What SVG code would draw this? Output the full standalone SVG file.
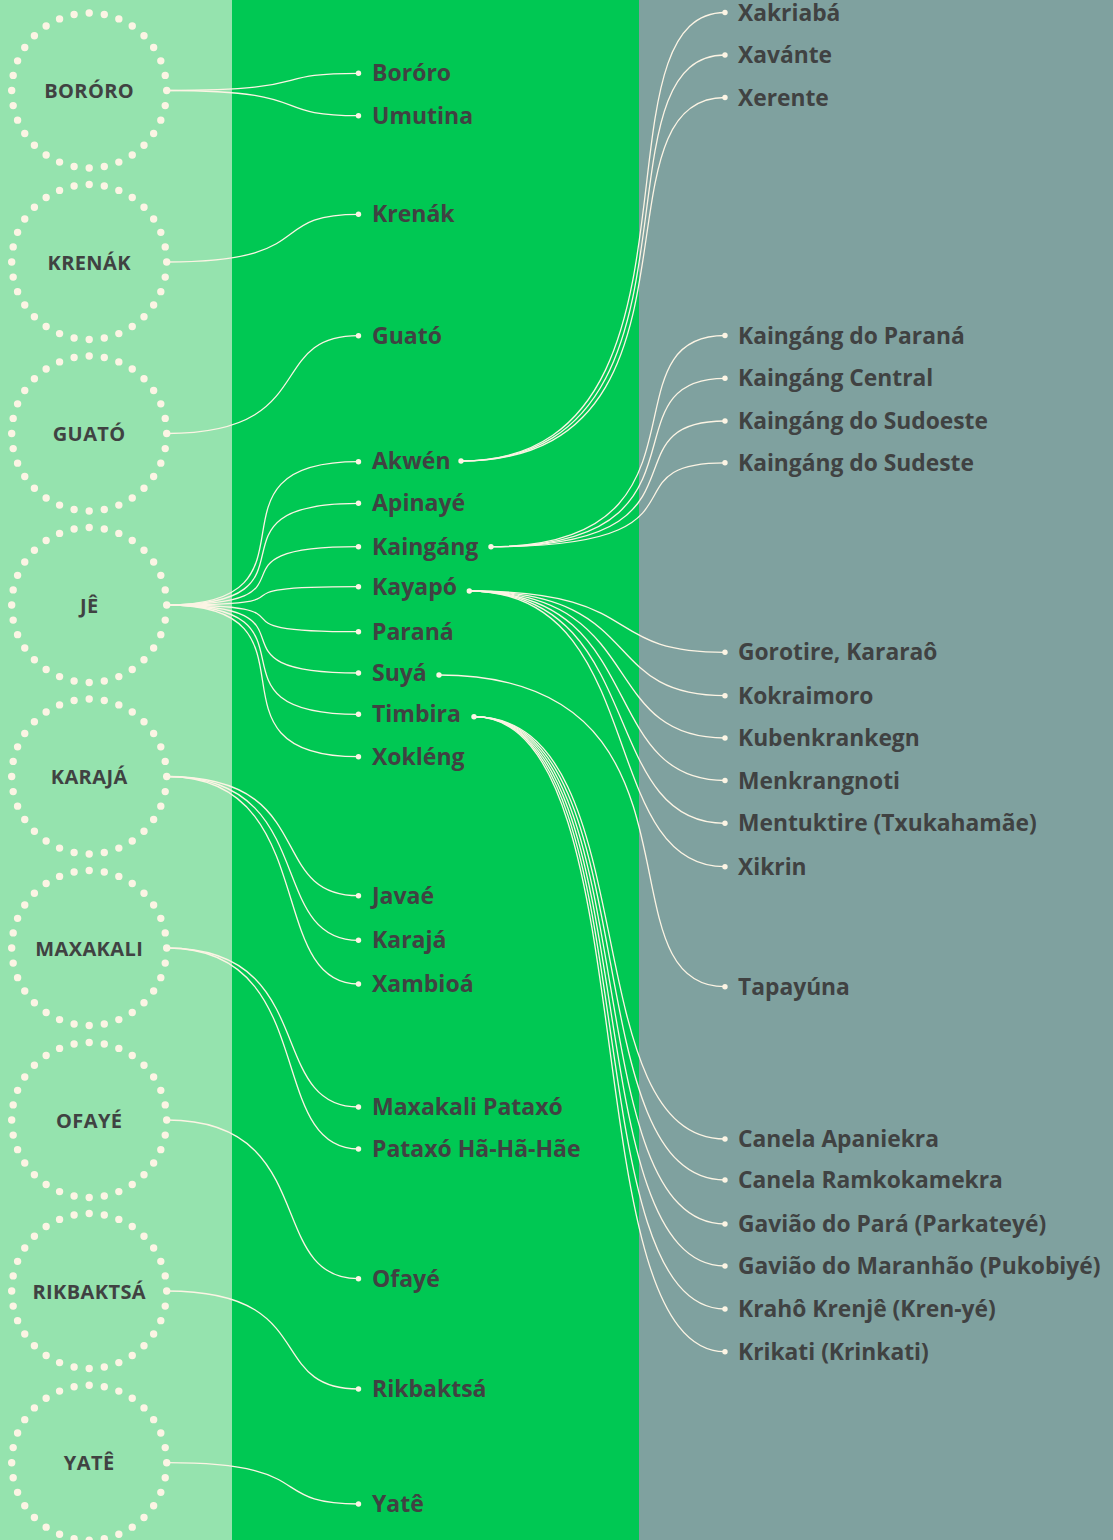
<svg xmlns="http://www.w3.org/2000/svg" width="1113" height="1540" viewBox="0 0 1113 1540">
<style>
.ring{fill:none;stroke:#fcf4e4;stroke-width:7.4;stroke-linecap:round;stroke-dasharray:0 1}
.lnk{fill:none;stroke:#fcf4e4;stroke-width:1.3}
.dot{fill:#fcf4e4}
.cl{font-family:"Open Sans","Liberation Sans",sans-serif;font-weight:700;font-size:20px;letter-spacing:0.4px;fill:#404242;text-anchor:middle}
.ml{font-family:"Open Sans","Liberation Sans",sans-serif;font-weight:700;font-size:23px;fill:#404242}
.rl{font-family:"Open Sans","Liberation Sans",sans-serif;font-weight:700;font-size:22.8px;fill:#404242}
</style>
<rect x="0" y="0" width="232" height="1540" fill="#95e3ae"/>
<rect x="232" y="0" width="407" height="1540" fill="#00c853"/>
<rect x="639" y="0" width="474" height="1540" fill="#7fa19f"/>

<g id="connectors">
<path class="lnk" d="M167,90.5 C321,90.5 264,73.3 358.5,73.3"/>
<path class="lnk" d="M167,90.5 C321,90.5 264,115.7 358.5,115.7"/>
<path class="lnk" d="M167,262 C321,262 264,214.3 358.5,214.3"/>
<path class="lnk" d="M167,433.5 C321,433.5 264,335.7 358.5,335.7"/>
<path class="lnk" d="M167,605 C335,605 190,461.7 358.5,461.7"/>
<path class="lnk" d="M167,605 C335,605 190,503.3 358.5,503.3"/>
<path class="lnk" d="M167,605 C335,605 190,546.7 358.5,546.7"/>
<path class="lnk" d="M167,605 C335,605 190,586.7 358.5,586.7"/>
<path class="lnk" d="M167,605 C335,605 190,631.7 358.5,631.7"/>
<path class="lnk" d="M167,605 C335,605 190,673 358.5,673"/>
<path class="lnk" d="M167,605 C335,605 190,714.3 358.5,714.3"/>
<path class="lnk" d="M167,605 C335,605 190,756.7 358.5,756.7"/>
<path class="lnk" d="M167,776.5 C321,776.5 264,895.7 358.5,895.7"/>
<path class="lnk" d="M167,776.5 C321,776.5 264,940.3 358.5,940.3"/>
<path class="lnk" d="M167,776.5 C321,776.5 264,984 358.5,984"/>
<path class="lnk" d="M167,948 C321,948 264,1107 358.5,1107"/>
<path class="lnk" d="M167,948 C321,948 264,1149 358.5,1149"/>
<path class="lnk" d="M167,1120 C321,1120 264,1278.7 358.5,1278.7"/>
<path class="lnk" d="M167,1291 C321,1291 264,1389 358.5,1389"/>
<path class="lnk" d="M167,1462.7 C321,1462.7 264,1504 358.5,1504"/>

<path class="lnk" d="M461,461 C725,461 586,12.5 725,12.5"/>
<path class="lnk" d="M461,461 C725,461 586,55 725,55"/>
<path class="lnk" d="M461,461 C725,461 586,97.5 725,97.5"/>
<path class="lnk" d="M491,546.7 C725,546.7 600,335.5 725,335.5"/>
<path class="lnk" d="M491,546.7 C725,546.7 600,378.3 725,378.3"/>
<path class="lnk" d="M491,546.7 C725,546.7 600,421 725,421"/>
<path class="lnk" d="M491,546.7 C725,546.7 600,462.8 725,462.8"/>
<path class="lnk" d="M469.3,591 C650,591 595,652.3 725,652.3"/>
<path class="lnk" d="M469.3,591 C650,591 595,695.7 725,695.7"/>
<path class="lnk" d="M469.3,591 C650,591 595,738 725,738"/>
<path class="lnk" d="M469.3,591 C650,591 595,780.5 725,780.5"/>
<path class="lnk" d="M469.3,591 C650,591 595,823.3 725,823.3"/>
<path class="lnk" d="M469.3,591 C650,591 595,866.7 725,866.7"/>
<path class="lnk" d="M439,675 C725,675 594,986.7 725,986.7"/>
<path class="lnk" d="M474,716.7 C650,716.7 571,1139 725,1139"/>
<path class="lnk" d="M474,716.7 C650,716.7 571,1180 725,1180"/>
<path class="lnk" d="M474,716.7 C650,716.7 571,1224 725,1224"/>
<path class="lnk" d="M474,716.7 C650,716.7 571,1266 725,1266"/>
<path class="lnk" d="M474,716.7 C650,716.7 571,1309 725,1309"/>
<path class="lnk" d="M474,716.7 C650,716.7 571,1351.7 725,1351.7"/>
</g>

<g id="c-bororo"><circle class="ring" cx="89.2" cy="90.5" r="77.5" pathLength="32"/><text class="cl" x="89.2" y="98">BORÓRO</text></g>
<g id="c-krenak"><circle class="ring" cx="89.2" cy="262" r="77.5" pathLength="32"/><text class="cl" x="89.2" y="269.5">KRENÁK</text></g>
<g id="c-guato"><circle class="ring" cx="89.2" cy="433.5" r="77.5" pathLength="32"/><text class="cl" x="89.2" y="441">GUATÓ</text></g>
<g id="c-je"><circle class="ring" cx="89.2" cy="605" r="77.5" pathLength="32"/><text class="cl" x="89.2" y="612.5">JÊ</text></g>
<g id="c-karaja"><circle class="ring" cx="89.2" cy="776.5" r="77.5" pathLength="32"/><text class="cl" x="89.2" y="784">KARAJÁ</text></g>
<g id="c-maxakali"><circle class="ring" cx="89.2" cy="948" r="77.5" pathLength="32"/><text class="cl" x="89.2" y="955.5">MAXAKALI</text></g>
<g id="c-ofaye"><circle class="ring" cx="89.2" cy="1120" r="77.5" pathLength="32"/><text class="cl" x="89.2" y="1127.5">OFAYÉ</text></g>
<g id="c-rikbaktsa"><circle class="ring" cx="89.2" cy="1291" r="77.5" pathLength="32"/><text class="cl" x="89.2" y="1298.5">RIKBAKTSÁ</text></g>
<g id="c-yate"><circle class="ring" cx="89.2" cy="1462.7" r="77.5" pathLength="32"/><text class="cl" x="89.2" y="1470.2">YATÊ</text></g>

<g id="m-bororo"><circle class="dot" cx="358.5" cy="73.3" r="2.7"/><text class="ml" x="372" y="81.3">Boróro</text></g>
<g id="m-umutina"><circle class="dot" cx="358.5" cy="115.7" r="2.7"/><text class="ml" x="372" y="123.7">Umutina</text></g>
<g id="m-krenak"><circle class="dot" cx="358.5" cy="214.3" r="2.7"/><text class="ml" x="372" y="222.3">Krenák</text></g>
<g id="m-guato"><circle class="dot" cx="358.5" cy="335.7" r="2.7"/><text class="ml" x="372" y="343.7">Guató</text></g>
<g id="m-akwen"><circle class="dot" cx="358.5" cy="461.7" r="2.7"/><circle class="dot" cx="461" cy="461" r="2.7"/><text class="ml" x="372" y="469.2">Akwén</text></g>
<g id="m-apinaye"><circle class="dot" cx="358.5" cy="503.3" r="2.7"/><text class="ml" x="372" y="511.3">Apinayé</text></g>
<g id="m-kaingang"><circle class="dot" cx="358.5" cy="546.7" r="2.7"/><circle class="dot" cx="491" cy="546.7" r="2.7"/><text class="ml" x="372" y="554.7">Kaingáng</text></g>
<g id="m-kayapo"><circle class="dot" cx="358.5" cy="586.7" r="2.7"/><circle class="dot" cx="469.3" cy="591" r="2.7"/><text class="ml" x="372" y="594.7">Kayapó</text></g>
<g id="m-parana"><circle class="dot" cx="358.5" cy="631.7" r="2.7"/><text class="ml" x="372" y="639.7">Paraná</text></g>
<g id="m-suya"><circle class="dot" cx="358.5" cy="673" r="2.7"/><circle class="dot" cx="439" cy="675" r="2.7"/><text class="ml" x="372" y="681">Suyá</text></g>
<g id="m-timbira"><circle class="dot" cx="358.5" cy="714.3" r="2.7"/><circle class="dot" cx="474" cy="716.7" r="2.7"/><text class="ml" x="372" y="722.3">Timbira</text></g>
<g id="m-xokleng"><circle class="dot" cx="358.5" cy="756.7" r="2.7"/><text class="ml" x="372" y="764.7">Xokléng</text></g>
<g id="m-javae"><circle class="dot" cx="358.5" cy="895.7" r="2.7"/><text class="ml" x="372" y="903.7">Javaé</text></g>
<g id="m-karaja"><circle class="dot" cx="358.5" cy="940.3" r="2.7"/><text class="ml" x="372" y="948.3">Karajá</text></g>
<g id="m-xambioa"><circle class="dot" cx="358.5" cy="984" r="2.7"/><text class="ml" x="372" y="992">Xambioá</text></g>
<g id="m-maxakali"><circle class="dot" cx="358.5" cy="1107" r="2.7"/><text class="ml" x="372" y="1115">Maxakali Pataxó</text></g>
<g id="m-pataxo"><circle class="dot" cx="358.5" cy="1149" r="2.7"/><text class="ml" x="372" y="1157">Pataxó Hã-Hã-Hãe</text></g>
<g id="m-ofaye"><circle class="dot" cx="358.5" cy="1278.7" r="2.7"/><text class="ml" x="372" y="1286.7">Ofayé</text></g>
<g id="m-rikbaktsa"><circle class="dot" cx="358.5" cy="1389" r="2.7"/><text class="ml" x="372" y="1397">Rikbaktsá</text></g>
<g id="m-yate"><circle class="dot" cx="358.5" cy="1504" r="2.7"/><text class="ml" x="372" y="1512">Yatê</text></g>

<g id="r-xakriaba"><circle class="dot" cx="725" cy="12.5" r="2.7"/><text class="rl" x="738" y="21">Xakriabá</text></g>
<g id="r-xavante"><circle class="dot" cx="725" cy="55" r="2.7"/><text class="rl" x="738" y="63">Xavánte</text></g>
<g id="r-xerente"><circle class="dot" cx="725" cy="97.5" r="2.7"/><text class="rl" x="738" y="105.5">Xerente</text></g>
<g id="r-kparana"><circle class="dot" cx="725" cy="335.5" r="2.7"/><text class="rl" x="738" y="343.5">Kaingáng do Paraná</text></g>
<g id="r-kcentral"><circle class="dot" cx="725" cy="378.3" r="2.7"/><text class="rl" x="738" y="386.3">Kaingáng Central</text></g>
<g id="r-ksudoeste"><circle class="dot" cx="725" cy="421" r="2.7"/><text class="rl" x="738" y="429">Kaingáng do Sudoeste</text></g>
<g id="r-ksudeste"><circle class="dot" cx="725" cy="462.8" r="2.7"/><text class="rl" x="738" y="470.8">Kaingáng do Sudeste</text></g>
<g id="r-gorotire"><circle class="dot" cx="725" cy="652.3" r="2.7"/><text class="rl" x="738" y="660.3">Gorotire, Kararaô</text></g>
<g id="r-kokraimoro"><circle class="dot" cx="725" cy="695.7" r="2.7"/><text class="rl" x="738" y="703.7">Kokraimoro</text></g>
<g id="r-kubenkrankegn"><circle class="dot" cx="725" cy="738" r="2.7"/><text class="rl" x="738" y="746">Kubenkrankegn</text></g>
<g id="r-menkrangnoti"><circle class="dot" cx="725" cy="780.5" r="2.7"/><text class="rl" x="738" y="788.5">Menkrangnoti</text></g>
<g id="r-mentuktire"><circle class="dot" cx="725" cy="823.3" r="2.7"/><text class="rl" x="738" y="831.3">Mentuktire (Txukahamãe)</text></g>
<g id="r-xikrin"><circle class="dot" cx="725" cy="866.7" r="2.7"/><text class="rl" x="738" y="874.7">Xikrin</text></g>
<g id="r-tapayuna"><circle class="dot" cx="725" cy="986.7" r="2.7"/><text class="rl" x="738" y="994.7">Tapayúna</text></g>
<g id="r-canela-ap"><circle class="dot" cx="725" cy="1139" r="2.7"/><text class="rl" x="738" y="1147">Canela Apaniekra</text></g>
<g id="r-canela-ram"><circle class="dot" cx="725" cy="1180" r="2.7"/><text class="rl" x="738" y="1188">Canela Ramkokamekra</text></g>
<g id="r-gaviao-para"><circle class="dot" cx="725" cy="1224" r="2.7"/><text class="rl" x="738" y="1232">Gavião do Pará (Parkateyé)</text></g>
<g id="r-gaviao-ma"><circle class="dot" cx="725" cy="1266" r="2.7"/><text class="rl" x="738" y="1274">Gavião do Maranhão (Pukobiyé)</text></g>
<g id="r-kraho"><circle class="dot" cx="725" cy="1309" r="2.7"/><text class="rl" x="738" y="1317">Krahô Krenjê (Kren-yé)</text></g>
<g id="r-krikati"><circle class="dot" cx="725" cy="1351.7" r="2.7"/><text class="rl" x="738" y="1359.7">Krikati (Krinkati)</text></g>
</svg>
